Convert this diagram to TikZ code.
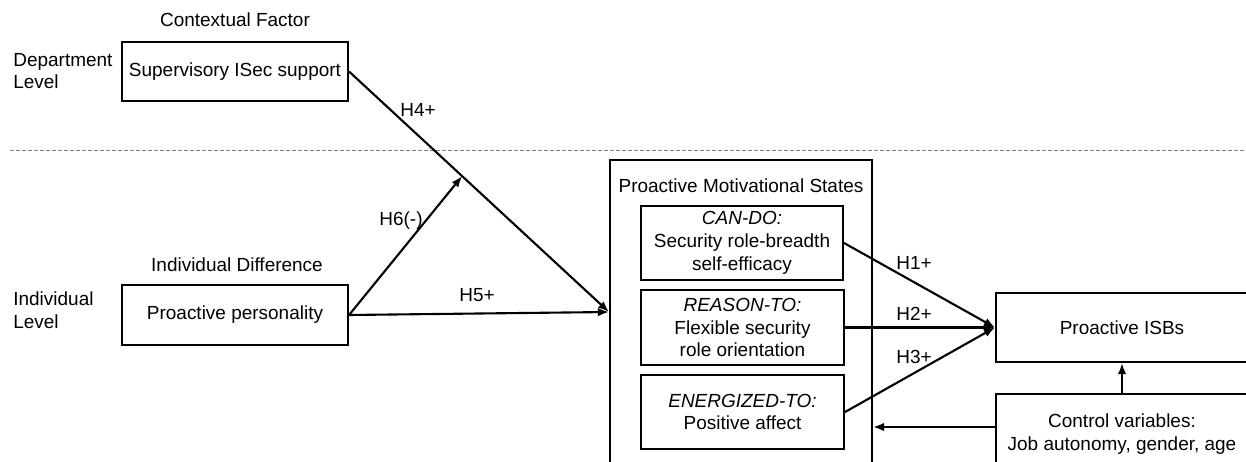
\documentclass[tikz,border=0pt]{standalone}
\usepackage{fontspec}
\setmainfont{Liberation Sans}
\usetikzlibrary{arrows.meta,positioning,calc}

\tikzset{
  box/.style={draw,line width=1.2pt,inner sep=0pt,align=center},
  lbl/.style={inner sep=0pt},
  hyp/.style={line width=1.2pt,-{Latex[length=2.2mm,width=1.7mm]}},
}

\begin{document}
\begin{tikzpicture}[x=0.2mm,y=-0.2mm,
  every node/.style={font=\fontsize{10.8}{13}\selectfont}]
\useasboundingbox (0,0) rectangle (1246,461);
\clip (0,0) rectangle (1246,461);

% Levels
\node[lbl,anchor=west,align=left] (deplvl) at (13,71) {Department\\Level};
\node[lbl,anchor=west,align=left] (indlvl) at (13,310) {Individual\\Level};
\draw[gray,dash pattern=on 0.7mm off 0.5mm] (10,150) -- (1250,150);

% Left side
\node[lbl] (ctxt) at (235,20) {Contextual Factor};
\node[box,minimum width=45.2mm,minimum height=11.8mm] (sup) at (235,71.5) {Supervisory ISec support};
\node[lbl] (idiff) at (237,265) {Individual Difference};
\node[box,minimum width=45.2mm,minimum height=12mm] (pers) at (235,315) {Proactive personality};

% Proactive motivational states
\node[box,minimum width=52.4mm,minimum height=64mm] (pms) at (741,320) {};
\node[lbl] (pmstitle) at (741,186) {Proactive Motivational States};
\node[box,minimum width=40.4mm,minimum height=14.8mm] (can) at (742,243)
  {\textit{CAN-DO:}\\Security role-breadth\\self-efficacy};
\node[box,minimum width=40.6mm,minimum height=15mm] (rsn) at (742.5,327.5)
  {\textit{REASON-TO:}\\Flexible security\\role orientation};
\node[box,minimum width=40.6mm,minimum height=14.8mm] (eng) at (742.5,412)
  {\textit{ENERGIZED-TO:}\\Positive affect};

% Outcome and controls
\node[box,minimum width=50.4mm,minimum height=13.8mm] (isb) at (1122,327.5) {Proactive ISBs};
\node[box,minimum width=50.4mm,minimum height=16mm] (ctrl) at (1122,434)
  {Control variables:\\Job autonomy, gender, age};

% Paths
\coordinate (meet) at (pms.west |- 0,312);
\coordinate (mod) at ($(sup.east)!0.435!(meet)$);
\draw[hyp] (sup.east) -- (meet);
\draw[hyp] (pers.east) -- (mod);
\draw[hyp] (pers.east) -- (meet);
\draw[hyp] (can.east) -- (isb.west);
\draw[hyp] (rsn.east) -- (isb.west);
\draw[hyp] (eng.east) -- (isb.west);
\draw[hyp] (ctrl.north) -- (isb.south);
\draw[hyp] ([yshift=1.4mm]ctrl.west) -- ([yshift=1.4mm]ctrl.west -| pms.east);

% Hypothesis labels
\node[lbl] (h4) at (418,110) {H4+};
\node[lbl] (h6) at (401,221) {H6(-)};
\node[lbl] (h5) at (477,295) {H5+};
\node[lbl] (h1) at (914,263) {H1+};
\node[lbl] (h2) at (914,314) {H2+};
\node[lbl] (h3) at (914,357) {H3+};
\end{tikzpicture}
\end{document}
